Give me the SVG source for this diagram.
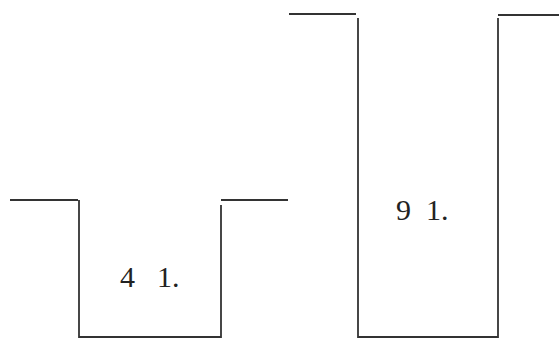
<svg xmlns="http://www.w3.org/2000/svg" width="559" height="339" viewBox="0 0 559 339">
<style>
.w{fill:none;stroke:#333;stroke-width:1.8}
.t{font-family:"Liberation Serif","Times New Roman",serif;font-size:30px;fill:#222}
</style>
<rect width="559" height="339" fill="#fff"/>
<g id="small">
<path class="w" d="M10 200H78M79 200V337H221V205M221 200H288"/>
<text class="t" x="120" y="287">4</text>
<text class="t" x="157" y="287">1.</text>
</g>
<g id="large">
<path class="w" d="M289 14H356M358 18V337H498V18M498 15H559"/>
<text class="t" x="396" y="220">9</text>
<text class="t" x="426" y="220">1.</text>
</g>
</svg>
